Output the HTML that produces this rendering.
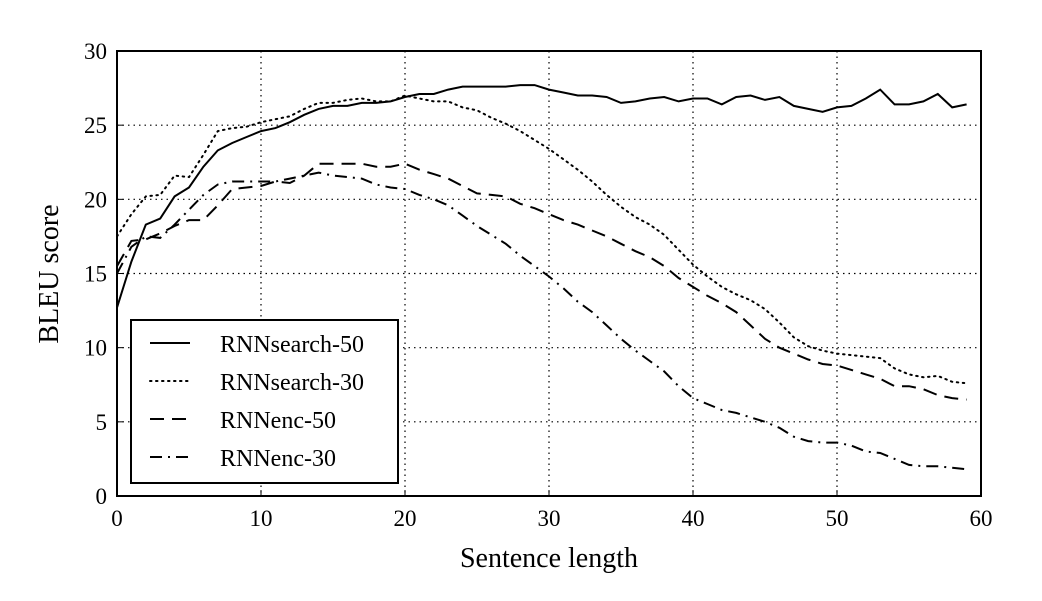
<!DOCTYPE html>
<html><head><meta charset="utf-8"><style>
html,body{margin:0;padding:0;background:#fff;}
svg{display:block;font-family:"Liberation Serif",serif;}
</style></head><body>
<svg id="chart" width="1042" height="601" viewBox="0 0 1042 601"></svg>
<script>
const xTicks=[0,10,20,30,40,50,60];
const yTicks=[0,5,10,15,20,25,30];
const seriesNames=["RNNsearch-50","RNNsearch-30","RNNenc-50","RNNenc-30"];
const search50=[12.7,15.8,18.3,18.7,20.2,20.8,22.2,23.3,23.8,24.2,24.6,24.8,25.2,25.7,26.1,26.3,26.3,26.5,26.5,26.6,26.9,27.1,27.1,27.4,27.6,27.6,27.6,27.6,27.7,27.7,27.4,27.2,27.0,27.0,26.9,26.5,26.6,26.8,26.9,26.6,26.8,26.8,26.4,26.9,27.0,26.7,26.9,26.3,26.1,25.9,26.2,26.3,26.8,27.4,26.4,26.4,26.6,27.1,26.2,26.4];
const search30=[17.5,19.0,20.2,20.3,21.6,21.5,23.0,24.6,24.8,24.9,25.2,25.4,25.6,26.1,26.5,26.5,26.7,26.8,26.6,26.6,27.0,26.8,26.6,26.6,26.2,26.0,25.5,25.1,24.6,24.0,23.4,22.7,22.0,21.2,20.3,19.5,18.8,18.3,17.6,16.6,15.6,14.8,14.1,13.6,13.2,12.6,11.7,10.7,10.1,9.8,9.6,9.5,9.4,9.3,8.6,8.2,8.0,8.1,7.7,7.6];
const enc50=[15.5,17.2,17.3,17.7,18.2,18.6,18.6,19.6,20.7,20.8,20.9,21.2,21.1,21.6,22.4,22.4,22.4,22.4,22.2,22.2,22.4,22.0,21.7,21.4,20.9,20.4,20.3,20.2,19.7,19.4,19.0,18.6,18.3,17.9,17.5,17.0,16.5,16.1,15.5,14.7,14.1,13.5,13.0,12.4,11.5,10.6,10.0,9.6,9.2,8.9,8.8,8.5,8.2,7.9,7.4,7.4,7.2,6.8,6.6,6.5];
const enc30=[15.0,16.8,17.5,17.4,18.3,19.3,20.3,21.0,21.2,21.2,21.2,21.2,21.4,21.6,21.8,21.6,21.5,21.4,21.0,20.8,20.7,20.3,20.0,19.6,18.9,18.2,17.6,17.0,16.2,15.5,14.8,14.0,13.1,12.4,11.5,10.6,9.8,9.1,8.4,7.4,6.6,6.2,5.8,5.6,5.3,5.0,4.6,4.0,3.7,3.6,3.6,3.4,3.0,2.9,2.5,2.1,2.0,2.0,1.9,1.8];

const L=117,R=981,T=51,B=496;
const xs=v=>L+(v-0)/60*(R-L);
const ys=v=>B-(v-0)/30*(B-T);
const NS="http://www.w3.org/2000/svg";
const svg=document.getElementById('chart');
function mk(tag,attrs,parent){const e=document.createElementNS(NS,tag);for(const k in attrs)e.setAttribute(k,attrs[k]);(parent||svg).appendChild(e);return e;}

xTicks.forEach(t=>{
  if(t>0&&t<60){const g=mk('line',{x1:xs(t),x2:xs(t),y1:T,y2:B,stroke:'#000','stroke-width':1.2,'stroke-dasharray':'1.5,4'});
  
  }
  const tk=mk('line',{x1:xs(t),x2:xs(t),y1:B,y2:B-6,stroke:'#000','stroke-width':1});
  
  
  const lb=mk('text',{x:xs(t),y:B+30,'text-anchor':'middle','font-size':23});
  lb.textContent=t;
  
  
});
yTicks.forEach(t=>{
  if(t>0&&t<30){const g=mk('line',{x1:L,x2:R,y1:ys(t),y2:ys(t),stroke:'#000','stroke-width':1.2,'stroke-dasharray':'1.5,4'});
  
  }
  const tk=mk('line',{x1:L,x2:L+6,y1:ys(t),y2:ys(t),stroke:'#000','stroke-width':1});
  
  
  const lb=mk('text',{x:L-10,y:ys(t)+8,'text-anchor':'end','font-size':23});
  lb.textContent=t;
  
  
});

const styles=[{d:'none'},{d:'1.5,4.5'},{d:'14,8'},{d:'12,6,2,6'}];
const data=[search50,search30,enc50,enc30];
data.forEach((arr,i)=>{
  const pts=arr.map((v,j)=>xs(j).toFixed(1)+','+ys(v).toFixed(1)).join(' ');
  const p=mk('polyline',{points:pts,fill:'none',stroke:'#000','stroke-width':2,'stroke-dasharray':styles[i].d,'stroke-linecap':i==1?'round':'butt'});
  
  
});

const fr=mk('rect',{x:L,y:T,width:R-L,height:B-T,fill:'none',stroke:'#000','stroke-width':2});



const lg=mk('g',{});


mk('rect',{x:131,y:320,width:267,height:163,fill:'#fff',stroke:'#000','stroke-width':2},lg);
seriesNames.forEach((n,i)=>{
  const y=343+i*38;
  const e=mk('g',{},lg);
  
  
  mk('line',{x1:150,x2:190,y1:y,y2:y,stroke:'#000','stroke-width':2,'stroke-dasharray':styles[i].d,'stroke-linecap':i==1?'round':'butt'},e);
  const t=mk('text',{x:220,y:y+9,'font-size':24},e);
  t.textContent=n;
});

const xl=mk('text',{x:549,y:567,'text-anchor':'middle','font-size':28});
xl.textContent='Sentence length';


const yl=mk('text',{x:0,y:0,'text-anchor':'middle','font-size':28,transform:'translate(58,274) rotate(-90)'});
yl.textContent='BLEU score';


</script>
</body></html>
